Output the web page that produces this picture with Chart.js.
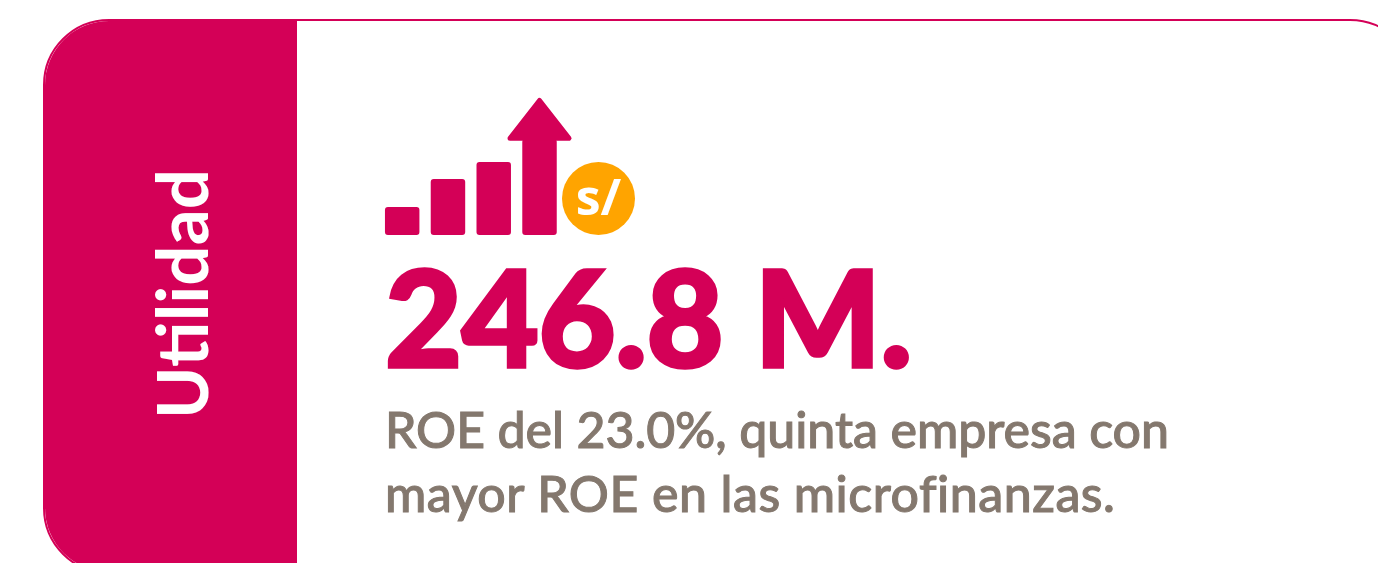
<!DOCTYPE html>
<html lang="es"><head><meta charset="utf-8">
<script src="https://cdn.jsdelivr.net/npm/chart.js@4"></script>
<style>
html,body{margin:0;padding:0;width:1378px;height:563px;overflow:hidden;background:#fff}
#card{position:absolute;left:43px;top:19px;width:1373px;height:555px;box-sizing:border-box;border:2px solid #D40057;border-radius:66px;background:#fff;overflow:hidden}
#side{position:absolute;left:-2px;top:-2px;width:254px;height:555px;background:#D40057}
canvas{position:absolute;left:0;top:0}
.t{position:absolute;white-space:nowrap;font-family:Lato,sans-serif;transform-origin:0 0;line-height:1}
#label{left:145px;top:419px;font-size:71px;font-weight:700;color:#fff;letter-spacing:0px;transform:rotate(-90deg)}
#big{left:385px;top:249px;font-size:133px;font-weight:900;color:#D40057;letter-spacing:-0.4px;-webkit-text-stroke:3.5px #D40057}
#l1,#l2{left:385px;font-size:50px;font-weight:500;color:#84786E;-webkit-text-stroke:1px #84786E}
#l1{top:404px;letter-spacing:-0.05px}#l2{top:468px;letter-spacing:.5px}
#coin{position:absolute;left:562px;top:162px;width:73px;height:73px;border-radius:50%;background:#FFA400;color:#fff;font:700 50px/68px "Open Sans",sans-serif;text-align:center}
</style></head><body>
<div id="card"><div id="side"></div></div>
<canvas id="c" width="1378" height="563"></canvas>
<div class="t" id="label">Utilidad</div>
<div id="coin">s/</div>
<div class="t" id="big">246.8 M.</div>
<div class="t" id="l1">ROE del 23.0%, quinta empresa con</div>
<div class="t" id="l2">mayor ROE en las microfinanzas.</div>
<script>
const categories = ["1","2","3","4"];
const barValues = [28,56,73,96];
const yMax = 137;
const PINK = "#D40057";
const arrowHead = {id:"arrowHead",afterDatasetsDraw(chart){
  const b = chart.getDatasetMeta(0).data[3]; const c = chart.ctx;
  c.save(); c.fillStyle=PINK; c.strokeStyle=PINK; c.lineWidth=5; c.lineJoin="round";
  c.beginPath(); c.moveTo(b.x,b.y-38.5); c.lineTo(b.x+29.5,b.y-0.8); c.lineTo(b.x-29.5,b.y-0.8); c.closePath();
  c.fill(); c.stroke(); c.restore();
}};
new Chart(document.getElementById("c"),{
  type:"bar",
  data:{labels:categories,datasets:[{data:barValues,backgroundColor:PINK,borderRadius:3,borderSkipped:false,barPercentage:1,categoryPercentage:0.753}]},
  options:{responsive:false,animation:false,events:[],
    layout:{padding:{left:379.3,right:815.6,top:98,bottom:328}},
    plugins:{legend:{display:false},tooltip:{enabled:false}},
    scales:{x:{display:false},y:{display:false,min:0,max:yMax}}},
  plugins:[arrowHead]
});
</script></body></html>
